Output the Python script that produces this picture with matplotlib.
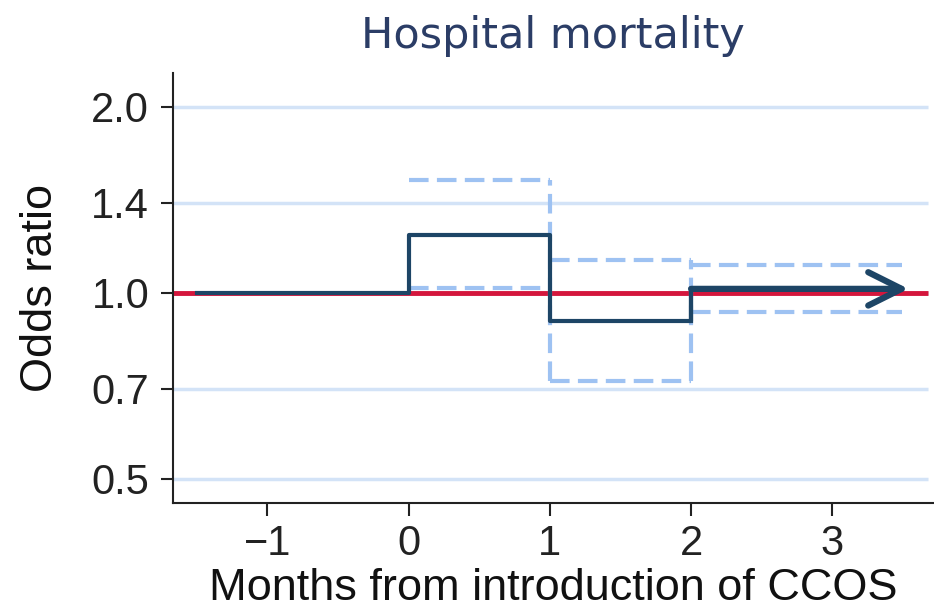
import matplotlib.pyplot as plt
import numpy as np

plt.rcParams['font.family'] = ['Liberation Sans', 'DejaVu Sans']

# Step edges (months) and odds ratios
edges = [-1.5, 0, 1, 2, 3.54]
estimate = [1.0, 1.24, 0.90, 1.015]
ci_edges = [0, 1, 2, 3.49]
ci_upper = [1.52, 1.13, 1.11]
ci_lower = [1.02, 0.72, 0.93]

yticks = [0.5, 0.7, 1.0, 1.4, 2.0]
xticks = [-1, 0, 1, 2, 3]

dark = '#1d4566'
light = '#9ec2f2'
red = '#d4163c'
grid = '#d3e3f7'
dash = (0, (4.7, 2.0))

fig = plt.figure(figsize=(9.34, 6.12), dpi=100)
ax = fig.add_axes([0.185, 0.178, 0.815, 0.703])
ax.set_yscale('log')
ax.set_xlim(-1.67, 3.72)
ax.set_ylim(0.457, 2.27)

x_end = 3.68
ax.hlines(yticks, -1.67, x_end, color=grid, lw=2.5, zorder=0)
ax.hlines(1.0, -1.67, x_end, color=red, lw=3.5, zorder=1)

# confidence band: dashed horizontal pieces and vertical connectors
ax.hlines(ci_upper, ci_edges[:-1], ci_edges[1:], color=light, lw=3, ls=dash, zorder=2)
ax.hlines(ci_lower, ci_edges[:-1], ci_edges[1:], color=light, lw=3, ls=dash, zorder=2)
for i in range(1, len(ci_edges) - 1):
    ax.vlines(ci_edges[i], min(ci_lower[i - 1], ci_lower[i]),
              max(ci_upper[i - 1], ci_upper[i]), color=light, lw=3, ls=dash, zorder=2)

# estimate step line; last segment drawn as arrow
ax.step(edges[:-1], estimate, where='post', color=dark, lw=3, zorder=3)
ax.plot([edges[-2], edges[-2]], [estimate[-2], estimate[-1]], color=dark, lw=3, zorder=3)
ax.annotate('', xy=(edges[-1], estimate[-1]), xytext=(edges[-2], estimate[-1]),
            arrowprops=dict(arrowstyle='->,head_length=2.4,head_width=1.2',
                            color=dark, lw=4.5, shrinkA=0, shrinkB=0),
            zorder=4)

ax.set_yticks(yticks)
ax.set_yticklabels([f'{t:.1f}' for t in yticks])
ax.minorticks_off()
ax.set_xticks(xticks)
ax.set_xticklabels(['\u22121', '0', '1', '2', '3'])
ax.tick_params(axis='both', labelsize=30, length=9, width=1.5, colors='#222222', pad=6)
ax.tick_params(axis='y', pad=8)

for s in ['top', 'right']:
    ax.spines[s].set_visible(False)
for s in ['left', 'bottom']:
    ax.spines[s].set_linewidth(1.5)
    ax.spines[s].set_color('#222222')

ax.set_title('Hospital mortality', fontsize=31, color='#2b3d66', pad=18,
             family=['DejaVu Sans'])
ax.set_xlabel('Months from introduction of CCOS', fontsize=32.5, color='#111111', labelpad=3)
ax.set_ylabel('Odds ratio', fontsize=32.5, color='#111111', labelpad=22)

fig.savefig('out.png', dpi=100)
